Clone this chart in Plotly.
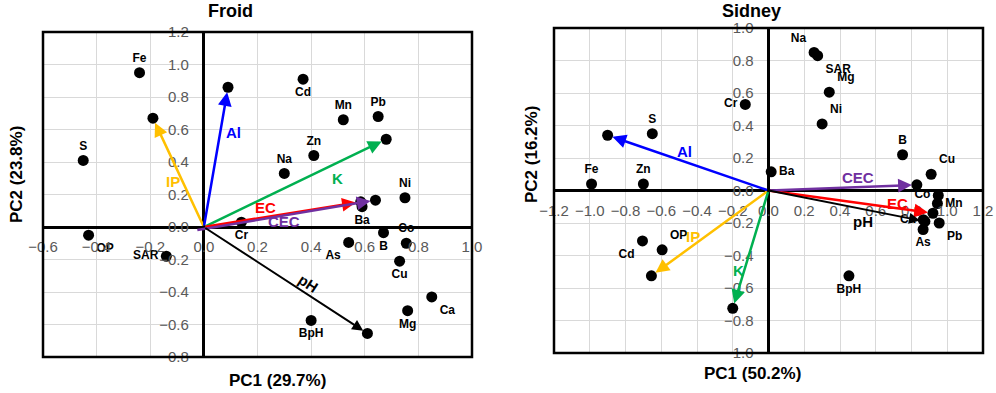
import plotly.graph_objects as go

# ---------------- DATA ----------------
froid_vars = ["Fe", "IP", "S", "Al", "Cd", "Mn", "Pb", "K", "Zn", "Na", "Ni", "EC", "Ba", "CEC",
              "Cr", "B", "As", "Co", "Cu", "Ca", "Mg", "BpH", "pH", "OP", "SAR"]
froid_pc1 = [-0.24, -0.19, -0.45, 0.09, 0.37, 0.52, 0.65, 0.68, 0.41, 0.30, 0.75, 0.585, 0.59, 0.64,
             0.14, 0.67, 0.54, 0.755, 0.73, 0.85, 0.76, 0.40, 0.61, -0.43, -0.14]
froid_pc2 = [0.95, 0.67, 0.41, 0.86, 0.91, 0.66, 0.68, 0.54, 0.44, 0.33, 0.18, 0.155, 0.125, 0.165,
             0.03, -0.035, -0.095, -0.10, -0.21, -0.43, -0.515, -0.575, -0.655, -0.05, -0.18]

sidney_vars = ["Cr", "Al", "S", "Fe", "Zn", "Na", "SAR", "Mg", "Ni", "B", "Cu", "CEC", "Ba", "Co",
               "Mn", "EC", "pH", "Ca", "Pb", "As", "BpH", "Cd", "OP", "IP", "K"]
sidney_pc1 = [-0.13, -0.90, -0.65, -0.99, -0.70, 0.255, 0.275, 0.34, 0.30, 0.75, 0.91, 0.83, 0.015, 0.95,
              0.945, 0.92, 0.875, 0.866, 0.955, 0.865, 0.45, -0.705, -0.595, -0.655, -0.20]
sidney_pc2 = [0.53, 0.34, 0.35, 0.04, 0.04, 0.85, 0.83, 0.605, 0.41, 0.22, 0.10, 0.035, 0.115, -0.03,
              -0.08, -0.14, -0.19, -0.18, -0.20, -0.24, -0.525, -0.31, -0.365, -0.525, -0.725]

arrow_vars = ["IP", "Al", "K", "EC", "CEC", "pH"]

titles = ["Froid", "Sidney"]
x_titles = ["PC1 (29.7%)", "PC1 (50.2%)"]
y_titles = ["PC2 (23.8%)", "PC2 (16.2%)"]
froid_xticks = [-0.6, -0.4, -0.2, 0.0, 0.2, 0.4, 0.6, 0.8, 1.0]
froid_yticks = [-0.8, -0.6, -0.4, -0.2, 0.0, 0.2, 0.4, 0.6, 0.8, 1.0, 1.2]
sidney_xticks = [-1.2, -1.0, -0.8, -0.6, -0.4, -0.2, 0.0, 0.2, 0.4, 0.6, 0.8, 1.0, 1.2]
sidney_yticks = [-1.0, -0.8, -0.6, -0.4, -0.2, 0.0, 0.2, 0.4, 0.6, 0.8, 1.0]

# ---------------- STYLE ----------------
W, H = 996, 393
FONT = "Liberation Sans"
arrow_colors = {"IP": "#FFC000", "Al": "#0000FF", "K": "#00B050", "EC": "#FF0000",
                "CEC": "#7030A0", "pH": "#000000"}

froid_textpos = {"Fe": "top center", "S": "top center", "Cd": "bottom center", "Mn": "top center",
                 "Pb": "top center", "Zn": "top center", "Na": "top center", "Ni": "top center",
                 "Ba": "bottom center", "Cr": "bottom center", "B": "bottom center",
                 "As": "bottom left", "Co": "top center", "Cu": "bottom center", "Ca": "bottom right",
                 "Mg": "bottom center", "BpH": "bottom center", "OP": "bottom right",
                 "SAR": "middle left"}
sidney_textpos = {"Cr": "middle left", "S": "top center", "Fe": "top center", "Zn": "top center",
                  "Na": "top left", "SAR": "bottom right", "Mg": "top right", "Ni": "top right",
                  "B": "top center", "Cu": "top right", "Ba": "middle right", "Co": "middle left",
                  "Mn": "middle right", "Ca": "middle left", "Pb": "bottom right",
                  "As": "bottom center", "BpH": "bottom center", "Cd": "bottom left",
                  "OP": "top right"}

froid_arrow_lbl = {"Al": (0.11, 0.58, 0), "IP": (-0.115, 0.28, 0), "K": (0.50, 0.30, 0),
                   "EC": (0.23, 0.12, 0), "CEC": (0.30, 0.035, 0), "pH": (0.39, -0.35, 33)}
sidney_arrow_lbl = {"Al": (-0.47, 0.24, 0), "CEC": (0.50, 0.08, 0), "EC": (0.72, -0.08, 0),
                    "pH": (0.53, -0.19, 0), "IP": (-0.42, -0.28, 0), "K": (-0.17, -0.49, 0)}
froid_arrow_start = {"CEC": (-0.03, -0.02)}

panels = [
    dict(vars=froid_vars, x=froid_pc1, y=froid_pc2, xr=[-0.6, 1.0], yr=[-0.8, 1.2],
         xt=froid_xticks, yt=froid_yticks, xd=[43 / W, 472 / W], yd=[(H - 357) / H, (H - 32) / H],
         tp=froid_textpos, al=froid_arrow_lbl, st=froid_arrow_start,
         title_xy=(230, 11), xt_xy=(277, 380), yt_xy=(16, 175)),
    dict(vars=sidney_vars, x=sidney_pc1, y=sidney_pc2, xr=[-1.2, 1.2], yr=[-1.0, 1.0],
         xt=sidney_xticks, yt=sidney_yticks, xd=[554 / W, 983 / W], yd=[(H - 353) / H, (H - 28) / H],
         tp=sidney_textpos, al=sidney_arrow_lbl, st={},
         title_xy=(751, 11), xt_xy=(752, 373), yt_xy=(531, 155)),
]

fig = go.Figure()
annotations = []
shapes = []
layout = {}

for i, p in enumerate(panels):
    k = "" if i == 0 else str(i + 1)
    xa, ya = "x" + k, "y" + k
    labels = [v if v in p["tp"] else "" for v in p["vars"]]
    tpos = [p["tp"].get(v, "top center") for v in p["vars"]]
    fig.add_trace(go.Scatter(
        x=p["x"], y=p["y"], mode="markers+text", text=labels, textposition=tpos,
        textfont=dict(family=FONT, size=12, color="black", weight="bold"),
        marker=dict(size=11, color="black"), xaxis=xa, yaxis=ya,
        showlegend=False, hoverinfo="text", hovertext=p["vars"], cliponaxis=False))

    xpos = p["yd"][0] + (0 - p["yr"][0]) / (p["yr"][1] - p["yr"][0]) * (p["yd"][1] - p["yd"][0])
    ypos = p["xd"][0] + (0 - p["xr"][0]) / (p["xr"][1] - p["xr"][0]) * (p["xd"][1] - p["xd"][0])
    common = dict(showgrid=True, gridcolor="#D9D9D9", gridwidth=1, zeroline=True,
                  zerolinecolor="black", zerolinewidth=2.5, showline=False, ticks="",
                  tickfont=dict(family=FONT, size=15, color="#595959"), tickformat=".1f",
                  anchor="free", fixedrange=True)
    layout["xaxis" + k] = dict(common, domain=p["xd"], range=p["xr"], tickmode="array",
                               tickvals=p["xt"], position=xpos, ticklabelstandoff=9)
    layout["yaxis" + k] = dict(common, domain=p["yd"], range=p["yr"], tickmode="array",
                               tickvals=p["yt"], position=ypos, ticklabelstandoff=15)

    shapes.append(dict(type="rect", xref=xa + " domain", yref=ya + " domain", x0=0, x1=1, y0=0, y1=1,
                       line=dict(color="black", width=2.5), layer="above"))

    for v in arrow_vars:
        j = p["vars"].index(v)
        sx, sy = p["st"].get(v, (0.0, 0.0))
        annotations.append(dict(
            x=p["x"][j], y=p["y"][j], ax=sx, ay=sy, xref=xa, yref=ya, axref=xa, ayref=ya,
            text="", showarrow=True, arrowhead=2, arrowsize=1.1,
            arrowwidth=2.0 if v == "pH" else 2.5, arrowcolor=arrow_colors[v], standoff=5))
        lx, ly, ang = p["al"][v]
        annotations.append(dict(
            x=lx, y=ly, xref=xa, yref=ya, text=v, showarrow=False, textangle=ang,
            font=dict(family=FONT, size=15, color=arrow_colors[v], weight="bold")))

    tx, ty = p["title_xy"]
    annotations.append(dict(x=tx / W, y=1 - ty / H, xref="paper", yref="paper", text=titles[i],
                            showarrow=False, xanchor="center", yanchor="middle",
                            font=dict(family=FONT, size=18, color="black", weight="bold")))
    tx, ty = p["xt_xy"]
    annotations.append(dict(x=tx / W, y=1 - ty / H, xref="paper", yref="paper", text=x_titles[i],
                            showarrow=False, xanchor="center", yanchor="middle",
                            font=dict(family=FONT, size=17, color="black", weight="bold")))
    tx, ty = p["yt_xy"]
    annotations.append(dict(x=tx / W, y=1 - ty / H, xref="paper", yref="paper", text=y_titles[i],
                            showarrow=False, xanchor="center", yanchor="middle", textangle=-90,
                            font=dict(family=FONT, size=17, color="black", weight="bold")))

fig.update_layout(
    width=W, height=H, margin=dict(l=0, r=0, t=0, b=0, autoexpand=False),
    paper_bgcolor="white", plot_bgcolor="white",
    annotations=annotations, shapes=shapes, **layout)

# remove the default 8px page margin so the figure fills the 996x393 window exactly
fig.write_html("out.html", config={"displayModeBar": False},
               post_script="document.body.style.margin='0';document.body.style.overflow='hidden';")
